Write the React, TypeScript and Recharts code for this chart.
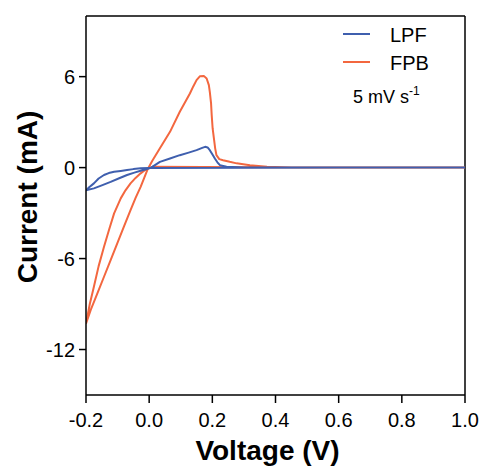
import { ComposedChart, Line, XAxis, YAxis, ReferenceLine, Customized } from 'recharts';

const voltageTicks = [-0.2, 0, 0.2, 0.4, 0.6, 0.8, 1.0];
const currentTicks = [-12, -6, 0, 6];

// LPF loop: forward scan from -0.2 V, back along the baseline
const lpfVoltage = [-0.2, -0.175, -0.15, -0.122, -0.095, -0.07, -0.047, -0.027, -0.01, 0.005, 0.034, 0.066, 0.097, 0.125, 0.15, 0.168, 0.177, 0.185, 0.192, 0.2, 0.208, 0.216, 0.224, 0.245, 0.3, 0.62, 1.0, 0.6, 0.0, -0.027, -0.05, -0.07, -0.09, -0.111, -0.128, -0.143, -0.16, -0.175, -0.19, -0.2];
const lpfCurrent = [-1.5, -1.37, -1.17, -0.94, -0.7, -0.49, -0.33, -0.21, -0.11, -0.02, 0.38, 0.6, 0.82, 0.99, 1.15, 1.3, 1.37, 1.33, 1.15, 0.88, 0.6, 0.35, 0.16, 0.05, 0.0, 0.0, 0.0, 0.0, -0.02, -0.05, -0.1, -0.16, -0.22, -0.28, -0.36, -0.49, -0.72, -1.04, -1.3, -1.5];

// FPB loop
const fpbVoltage = [-0.2, -0.185, -0.164, -0.143, -0.122, -0.101, -0.08, -0.059, -0.043, -0.027, -0.016, -0.006, 0.01, 0.034, 0.066, 0.097, 0.129, 0.14, 0.15, 0.161, 0.173, 0.182, 0.189, 0.192, 0.196, 0.198, 0.201, 0.205, 0.209, 0.213, 0.222, 0.234, 0.255, 0.277, 0.319, 0.373, 0.45, 1.0, 0.5, 0.01, -0.013, -0.027, -0.043, -0.059, -0.075, -0.09, -0.111, -0.127, -0.143, -0.16, -0.175, -0.188, -0.2];
const fpbCurrent = [-10.3, -9.39, -8.3, -7.2, -6.1, -5.0, -3.9, -2.8, -2.0, -1.27, -0.7, -0.16, 0.45, 1.27, 2.36, 3.68, 4.89, 5.37, 5.77, 6.03, 6.05, 5.88, 5.44, 5.0, 4.23, 3.46, 2.58, 1.92, 1.27, 0.82, 0.56, 0.49, 0.38, 0.28, 0.16, 0.05, 0.0, 0.0, 0.0, 0.05, -0.15, -0.38, -0.68, -1.04, -1.5, -2.03, -3.02, -4.1, -5.22, -6.5, -7.86, -9.0, -10.3];

const toPoints = (v: number[], c: number[]) => v.map((x, i) => ({ v: x, i: c[i] }));
const lpfData = toPoints(lpfVoltage, lpfCurrent);
const fpbData = toPoints(fpbVoltage, fpbCurrent);

const BLUE = '#3f5fae';
const ORANGE = '#f3673f';
const FONT = '"Liberation Sans", Arial, sans-serif';

function Annotations() {
  return (
    <g fontFamily={FONT} fill="#000">
      <line x1={343} y1={34} x2={370} y2={34} stroke={BLUE} strokeWidth={2} />
      <text x={390} y={42} fontSize={20}>LPF</text>
      <line x1={343} y1={62} x2={370} y2={62} stroke={ORANGE} strokeWidth={2} />
      <text x={390} y={70} fontSize={20}>FPB</text>
      <text x={353} y={103} fontSize={18}>
        5 mV s<tspan fontSize={12} dy={-8}>-1</tspan>
      </text>
      <text
        x={37}
        y={197}
        fontSize={28}
        fontWeight="bold"
        textAnchor="middle"
        transform="rotate(-90 37 197)"
      >
        Current (mA)
      </text>
    </g>
  );
}

export default function App() {
  return (
    <div style={{ position: 'absolute', left: 0, top: 0 }}>
      <ComposedChart width={483} height={468} margin={{ top: 16, right: 18, left: 0, bottom: 0 }}>
        <XAxis
          dataKey="v"
          type="number"
          domain={[-0.2, 1.0]}
          ticks={voltageTicks}
          allowDataOverflow
          tickFormatter={(t: number) => t.toFixed(1)}
          height={73}
          tickSize={8}
          tickMargin={10}
          axisLine={{ stroke: '#000', strokeWidth: 1.5 }}
          tickLine={{ stroke: '#000', strokeWidth: 1.5 }}
          tick={{ fill: '#000', fontSize: 20, fontFamily: FONT }}
          label={{ value: 'Voltage (V)', position: 'insideBottom', offset: 8, dx: -8, fill: '#000', fontSize: 28, fontWeight: 'bold', fontFamily: FONT }}
        />
        <YAxis
          dataKey="i"
          type="number"
          domain={[-15, 10]}
          ticks={currentTicks}
          allowDataOverflow
          width={86}
          tickSize={7}
          tickMargin={4}
          axisLine={{ stroke: '#000', strokeWidth: 1.5 }}
          tickLine={{ stroke: '#000', strokeWidth: 1.5 }}
          tick={{ fill: '#000', fontSize: 20, fontFamily: FONT }}
        />
        <ReferenceLine y={10} stroke="#000" strokeWidth={1.5} />
        <ReferenceLine x={1.0} stroke="#000" strokeWidth={1.5} />
        <Line data={fpbData} dataKey="i" type="linear" stroke={ORANGE} strokeWidth={2} strokeLinejoin="round" dot={false} isAnimationActive={false} />
        <Line data={lpfData} dataKey="i" type="linear" stroke={BLUE} strokeWidth={2} strokeLinejoin="round" dot={false} isAnimationActive={false} />
        <Customized component={Annotations} />
      </ComposedChart>
    </div>
  );
}
